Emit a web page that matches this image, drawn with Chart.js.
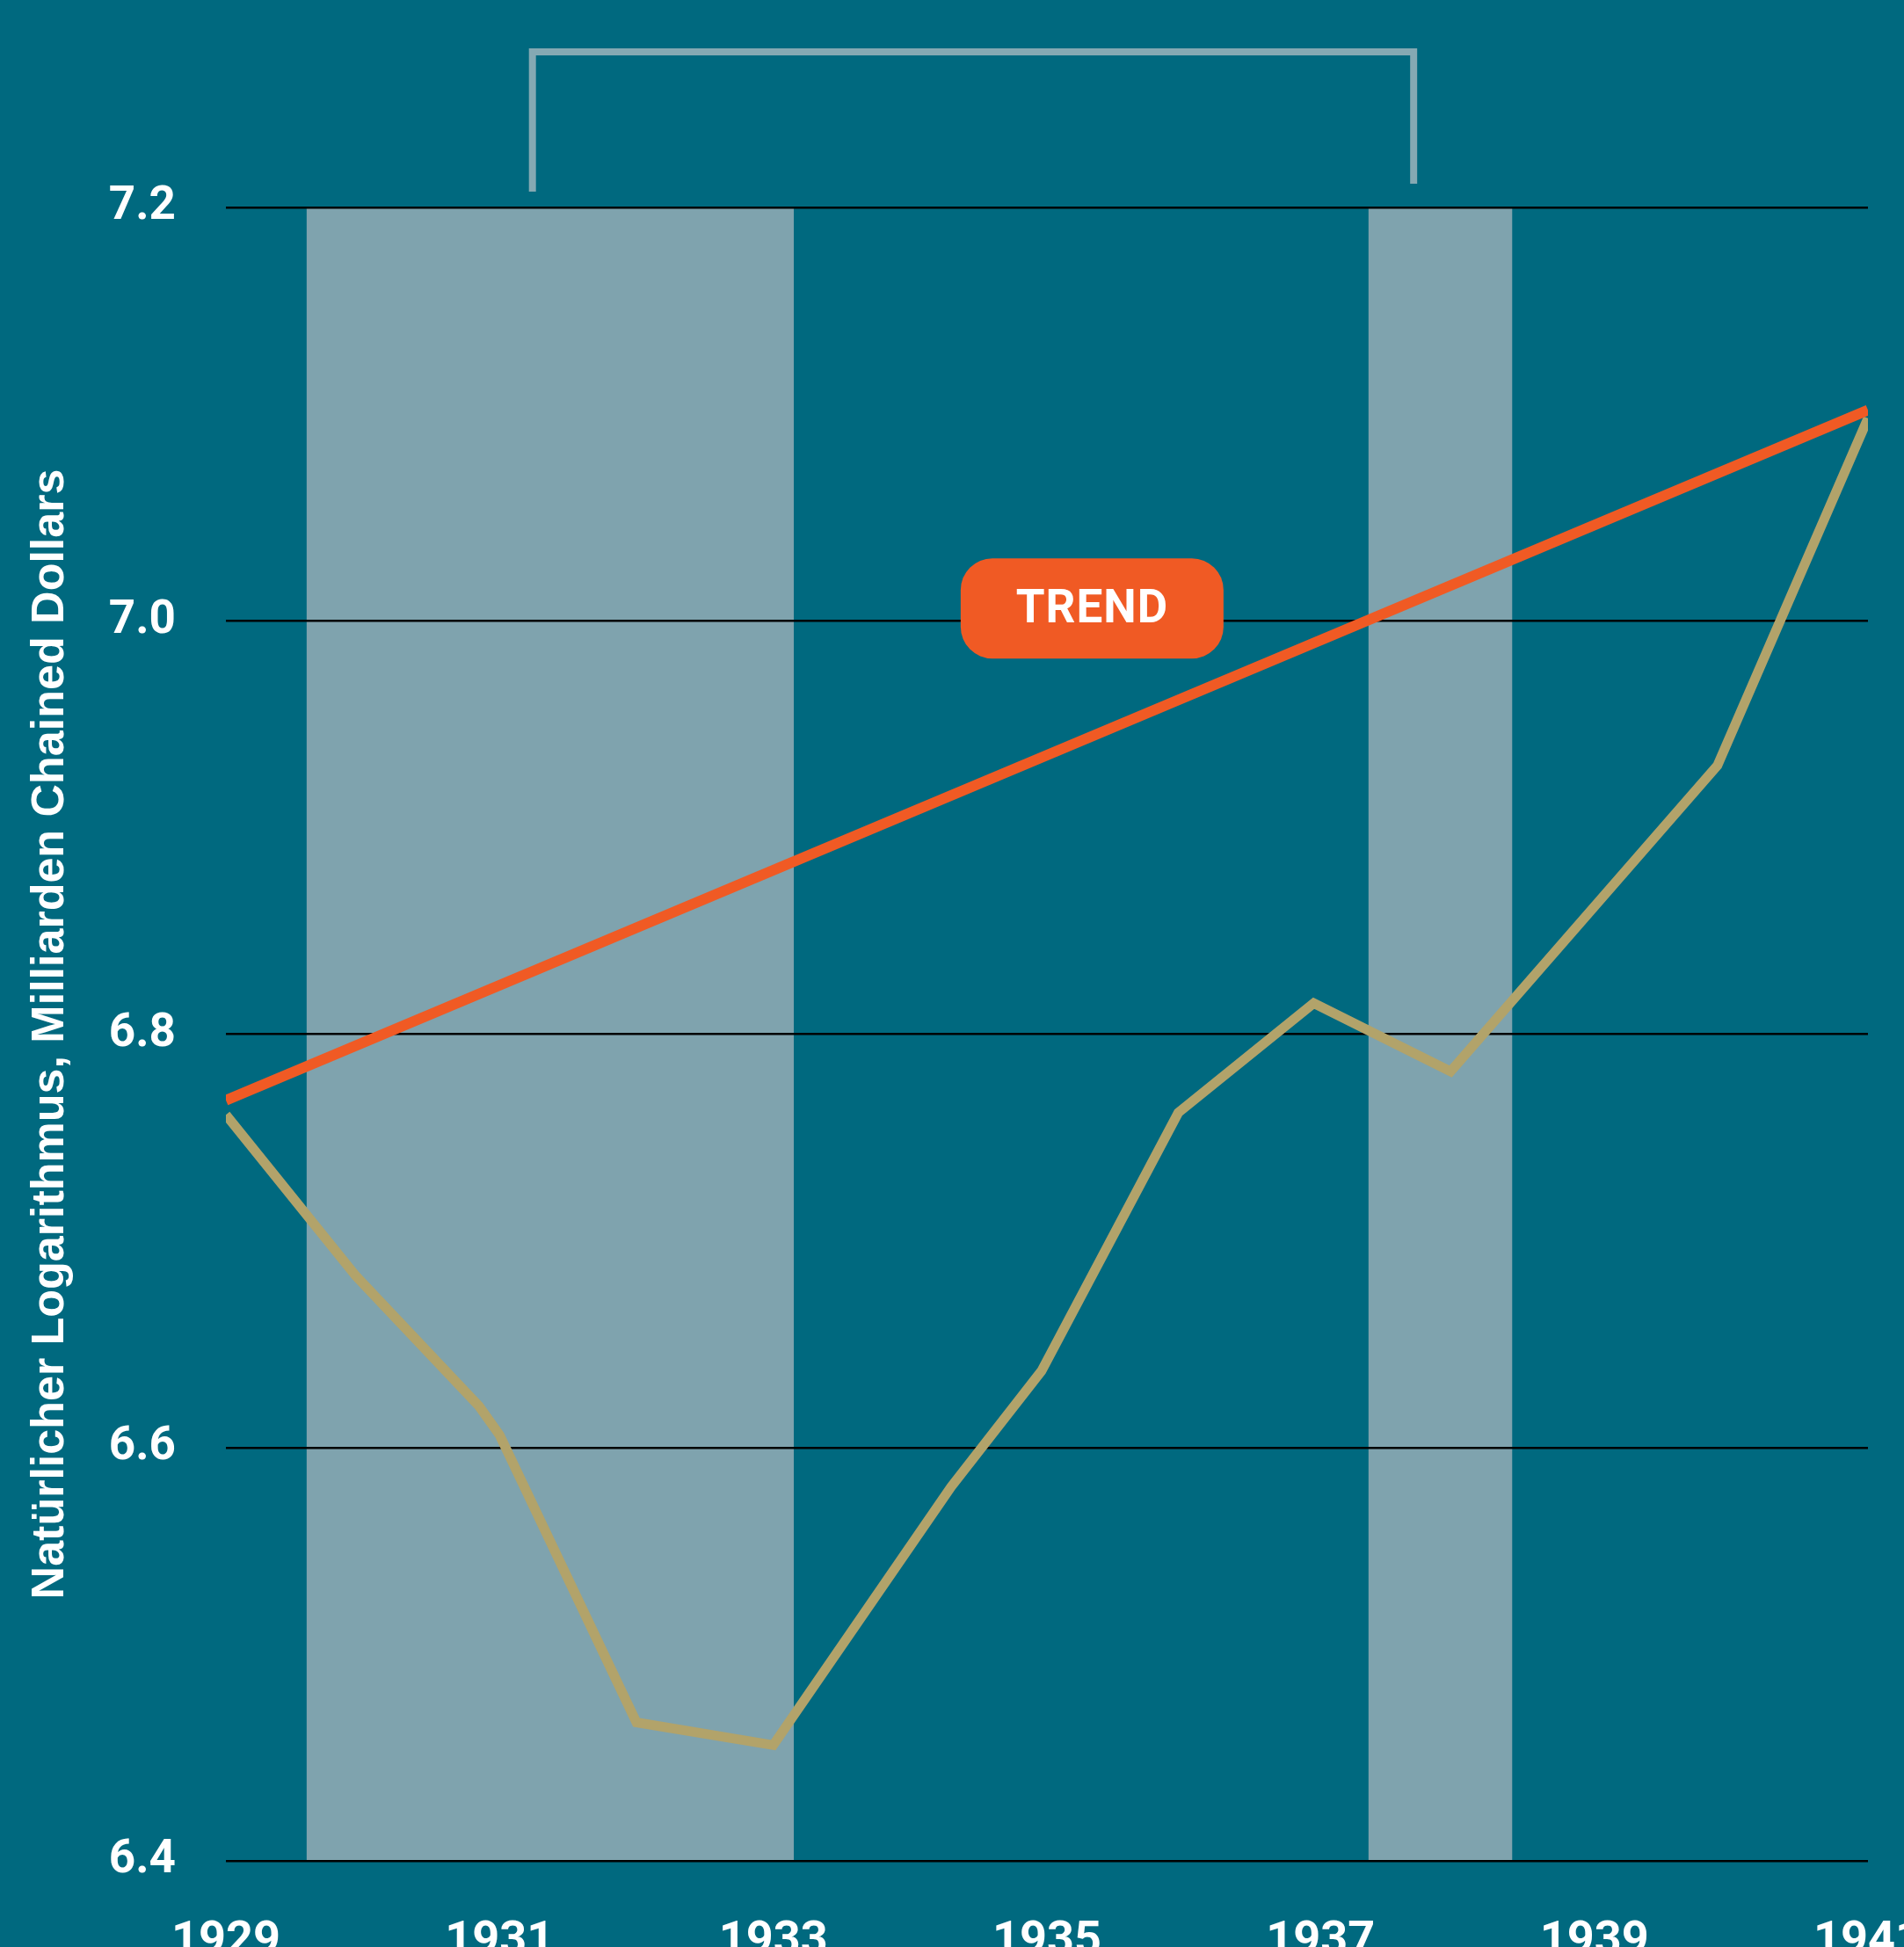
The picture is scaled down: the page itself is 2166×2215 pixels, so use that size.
<!DOCTYPE html>
<html>
<head>
<meta charset="utf-8">
<script src="https://cdn.jsdelivr.net/npm/chart.js@4"></script>
<style>
  html, body { margin: 0; padding: 0; background: #00697f; overflow: hidden; }
  #wrap { width: 2166px; height: 2215px; position: relative; }
</style>
</head>
<body>
<div id="wrap"><canvas id="chart"></canvas></div>
<script>
// GDP line (log of billions of chained dollars)
const gdpYears = [1929, 1929.95, 1930.85, 1931, 1932, 1933, 1934.3, 1934.96, 1935.96, 1936.95, 1937.95, 1939.9, 1941];
const gdpValues = [6.761, 6.683, 6.620, 6.606, 6.467, 6.456, 6.581, 6.637, 6.762, 6.815, 6.782, 6.930, 7.098];

// trend line end points
const trendYears = [1929, 1941];
const trendValues = [6.768, 7.102];

// shaded recession periods
const bandStart = [1929.59, 1937.35];
const bandEnd = [1933.15, 1938.40];

// bracket over the depression years
const bracketYears = [1931.24, 1937.68];

const trendLabel = { text: 'TREND', year: 1935.33, value: 7.006 };

const yTicks = [6.4, 6.6, 6.8, 7.0, 7.2];
const xTicks = [1929, 1931, 1933, 1935, 1937, 1939, 1941];
const yTitle = 'Natürlicher Logarithmus, Milliarden Chained Dollars';

const BG = '#00697f';
const BAND = '#7fa3ae';
const BRACKET = '#85a9b3';
const ORANGE = '#f05a24';
const GOLD = '#b2a36a';

const extras = {
  id: 'extras',
  beforeDraw(chart) {
    const { ctx, chartArea, scales } = chart;
    ctx.save();
    ctx.fillStyle = BG;
    ctx.fillRect(0, 0, chart.width, chart.height);
    ctx.fillStyle = BAND;
    for (let i = 0; i < bandStart.length; i++) {
      const x0 = scales.x.getPixelForValue(bandStart[i]);
      const x1 = scales.x.getPixelForValue(bandEnd[i]);
      ctx.fillRect(x0, chartArea.top, x1 - x0, chartArea.bottom - chartArea.top);
    }
    ctx.restore();
  },
  afterDatasetsDraw(chart) {
    const { ctx, scales } = chart;
    const cx = scales.x.getPixelForValue(trendLabel.year);
    const cy = scales.y.getPixelForValue(trendLabel.value);
    const w = 299, h = 114;
    ctx.save();
    ctx.fillStyle = ORANGE;
    ctx.beginPath();
    ctx.roundRect(cx - w / 2, cy - h / 2, w, h, 36);
    ctx.fill();
    ctx.fillStyle = '#ffffff';
    ctx.font = 'bold 53px Roboto';
    ctx.textAlign = 'center';
    ctx.textBaseline = 'middle';
    ctx.letterSpacing = '1px';
    ctx.fillText(trendLabel.text, cx, cy + 3);
    ctx.restore();
  },
  afterDraw(chart) {
    const { ctx, chartArea, scales } = chart;
    const xl = scales.x.getPixelForValue(bracketYears[0]);
    const xr = scales.x.getPixelForValue(bracketYears[1]);
    const top = chartArea.top - 177;
    ctx.save();
    ctx.strokeStyle = BRACKET;
    ctx.lineWidth = 8;
    ctx.lineJoin = 'miter';
    ctx.beginPath();
    ctx.moveTo(xl, chartArea.top - 18);
    ctx.lineTo(xl, top);
    ctx.lineTo(xr, top);
    ctx.lineTo(xr, chartArea.top - 27);
    ctx.stroke();
    ctx.restore();
  }
};

const ctx = document.getElementById('chart');

const config = {
  type: 'line',
  data: {
    datasets: [
      {
        label: 'Trend',
        data: trendYears.map((y, i) => ({ x: y, y: trendValues[i] })),
        borderColor: ORANGE,
        borderWidth: 12,
        pointRadius: 0,
        tension: 0,
      },
      {
        label: 'BIP',
        data: gdpYears.map((y, i) => ({ x: y, y: gdpValues[i] })),
        borderColor: GOLD,
        borderWidth: 11,
        pointRadius: 0,
        tension: 0,
      },
    ],
  },
  options: {
    responsive: true,
    maintainAspectRatio: false,
    animation: false,
    devicePixelRatio: 1,
    layout: { padding: { top: 236, right: 41, left: 0, bottom: 0 } },
    plugins: {
      legend: { display: false },
      tooltip: { enabled: false },
    },
    scales: {
      x: {
        type: 'linear',
        min: 1929,
        max: 1941,
        afterBuildTicks: (scale) => { scale.ticks = xTicks.map(v => ({ value: v })); },
        afterFit: (scale) => { scale.height = 98; scale.paddingLeft = 0; scale.paddingRight = 0; },
        grid: { display: false, drawTicks: false },
        border: { display: false },
        ticks: {
          color: '#ffffff',
          padding: 60,
          maxRotation: 0,
          autoSkip: false,
          font: { family: 'Roboto', weight: 'bold', size: 54 },
          callback: (v) => String(v),
        },
      },
      y: {
        type: 'linear',
        min: 6.4,
        max: 7.2,
        afterBuildTicks: (scale) => { scale.ticks = yTicks.map(v => ({ value: v })); },
        afterFit: (scale) => { scale.width = 257; },
        grid: { color: '#000000', lineWidth: 2.5, drawTicks: false },
        border: { display: false },
        ticks: {
          color: '#ffffff',
          padding: 57,
          font: { family: 'Roboto', weight: 'bold', size: 53 },
          callback: (v) => v.toFixed(1),
        },
        title: {
          display: true,
          text: yTitle,
          color: '#ffffff',
          padding: { top: 26, bottom: 0 },
          font: { family: 'Liberation Sans', weight: 'bold', size: 52 },
        },
      },
    },
  },
  plugins: [extras],
};

const myChart = new Chart(ctx, config);
</script>
</body>
</html>
